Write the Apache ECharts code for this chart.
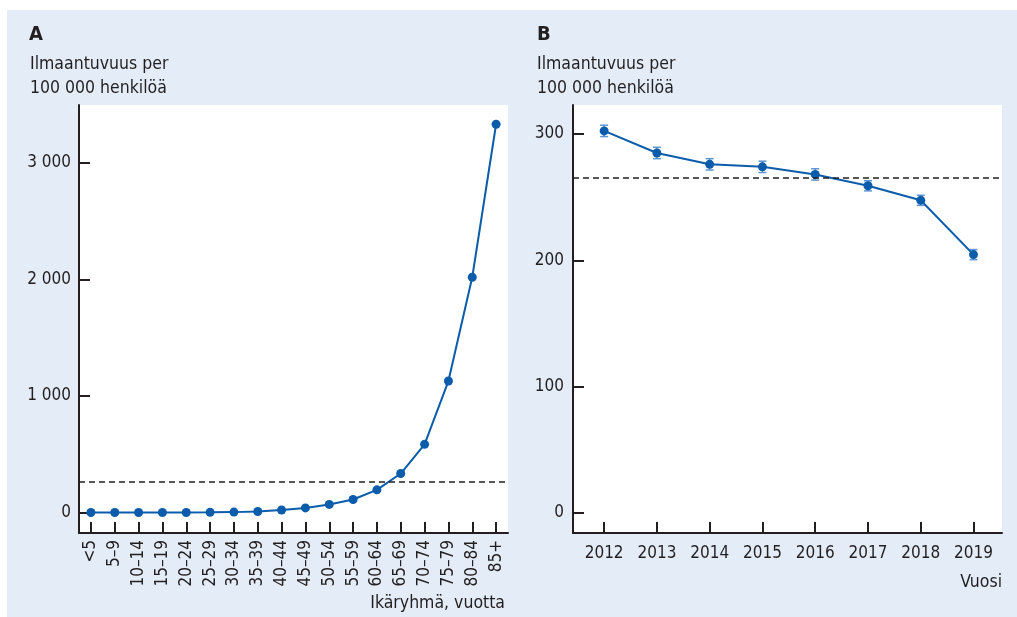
<!DOCTYPE html>
<html>
<head>
<meta charset="utf-8">
<script src="https://cdn.jsdelivr.net/npm/echarts@6/dist/echarts.min.js"></script>
<style>
  html, body { margin: 0; padding: 0; background: #ffffff; }
  #wrap { position: relative; width: 1017px; height: 617px; background: #ffffff; overflow: hidden; }
  #panelBg { position: absolute; left: 7px; top: 10px; right: 0; bottom: 0; background: #e4ecf7; }
  #chart { position: absolute; left: 0; top: 0; width: 1017px; height: 617px; }
</style>
</head>
<body>
<div id="wrap">
  <div id="panelBg"></div>
  <div id="chart"></div>
</div>
<script>
// Panel A: incidence by age group
const ageGroups = ['<5', '5–9', '10–14', '15–19', '20–24', '25–29', '30–34', '35–39', '40–44',
  '45–49', '50–54', '55–59', '60–64', '65–69', '70–74', '75–79', '80–84', '85+'];
const incidenceByAge = [1, 1, 1, 1, 1, 2, 4, 9, 22, 40, 70, 112, 195, 335, 585, 1128, 2018, 3330];

// Panel B: incidence by year with confidence intervals
const years = [2012, 2013, 2014, 2015, 2016, 2017, 2018, 2019];
const incidenceByYear = [302.5, 285, 276, 274, 268, 259, 247.5, 204.5];
const ciLower = [298, 280.5, 271.5, 269.5, 263.5, 255, 243.5, 200.5];
const ciUpper = [307, 289.5, 280.5, 278.5, 272.5, 263, 251.5, 208.5];

// Overall incidence (reference line in both panels)
const overallIncidence = 265;

// Tick values and labels
const yTicksA = [0, 1000, 2000, 3000];
const yTickLabelsA = ['0', '1 000', '2 000', '3 000'];
const yTicksB = [0, 100, 200, 300];

const FONT = "'Liberation Sans Narrow', 'DejaVu Sans Condensed', sans-serif";
const TEXT = '#231f20';
const BLUE = '#0b5cab';
const CI_BLUE = '#5d96d2';

const axisLineStyle = { show: true, onZero: false, lineStyle: { color: TEXT, width: 2 } };
const tickStyle = { show: true, inside: true, length: 11, lineStyle: { color: TEXT, width: 2 } };
const labelStyle = { color: TEXT, fontFamily: FONT, fontSize: 17 };

const refLine = {
  silent: true,
  symbol: 'none',
  label: { show: false },
  lineStyle: { type: [6, 4], color: TEXT, width: 1.6 },
  data: [{ yAxis: overallIncidence }]
};

function textEl(x, y, text, opts) {
  return {
    type: 'text',
    x: x, y: y,
    style: Object.assign({
      text: text,
      fill: TEXT,
      font: '17.5px ' + FONT,
      textAlign: 'left',
      textVerticalAlign: 'middle'
    }, opts || {})
  };
}

const chart = echarts.init(document.getElementById('chart'), null, { renderer: 'canvas' });

chart.setOption({
  animation: false,
  backgroundColor: 'transparent',
  graphic: [
    textEl(29, 35, 'A', { font: 'bold 20px ' + FONT }),
    textEl(30, 64, 'Ilmaantuvuus per'),
    textEl(30, 88, '100 000 henkilöä'),
    textEl(537, 35, 'B', { font: 'bold 20px ' + FONT }),
    textEl(537, 64, 'Ilmaantuvuus per'),
    textEl(537, 88, '100 000 henkilöä'),
    textEl(505, 603, 'Ikäryhmä, vuotta', { textAlign: 'right' }),
    textEl(1002, 582, 'Vuosi', { textAlign: 'right' })
  ],
  grid: [
    { left: 79, top: 105, width: 429, height: 428, show: true, backgroundColor: '#ffffff', borderWidth: 0 },
    { left: 573, top: 105, width: 429, height: 428, show: true, backgroundColor: '#ffffff', borderWidth: 0 }
  ],
  xAxis: [
    {
      gridIndex: 0,
      type: 'category',
      data: ageGroups,
      boundaryGap: true,
      axisLine: axisLineStyle,
      axisTick: Object.assign({ alignWithLabel: true }, tickStyle),
      axisLabel: Object.assign({ rotate: 90, margin: 7, interval: 0 }, labelStyle),
      splitLine: { show: false }
    },
    {
      gridIndex: 1,
      type: 'value',
      min: 2011.41,
      max: 2019.54,
      axisLine: axisLineStyle,
      axisTick: Object.assign({ customValues: years }, tickStyle),
      axisLabel: Object.assign({ customValues: years, margin: 12, formatter: v => String(v) }, labelStyle),
      splitLine: { show: false }
    }
  ],
  yAxis: [
    {
      gridIndex: 0,
      type: 'value',
      min: -175,
      max: 3495,
      axisLine: axisLineStyle,
      axisTick: Object.assign({ customValues: yTicksA }, tickStyle),
      axisLabel: Object.assign({
        customValues: yTicksA,
        margin: 8,
        formatter: v => yTickLabelsA[yTicksA.indexOf(v)]
      }, labelStyle),
      splitLine: { show: false }
    },
    {
      gridIndex: 1,
      type: 'value',
      min: -16,
      max: 323,
      axisLine: axisLineStyle,
      axisTick: Object.assign({ customValues: yTicksB }, tickStyle),
      axisLabel: Object.assign({ customValues: yTicksB, margin: 9 }, labelStyle),
      splitLine: { show: false }
    }
  ],
  series: [
    {
      type: 'line',
      xAxisIndex: 0,
      yAxisIndex: 0,
      data: incidenceByAge,
      symbol: 'circle',
      symbolSize: 9,
      lineStyle: { color: BLUE, width: 2 },
      itemStyle: { color: BLUE },
      markLine: refLine,
      z: 3
    },
    {
      type: 'custom',
      xAxisIndex: 1,
      yAxisIndex: 1,
      data: years.map((y, i) => [y, ciLower[i], ciUpper[i]]),
      encode: { x: 0, y: [1, 2] },
      renderItem: function (params, api) {
        const x = api.value(0);
        const lo = api.coord([x, api.value(1)]);
        const hi = api.coord([x, api.value(2)]);
        const half = 4;
        const style = { stroke: CI_BLUE, lineWidth: 1.5 };
        return {
          type: 'group',
          children: [
            { type: 'line', shape: { x1: lo[0], y1: lo[1], x2: hi[0], y2: hi[1] }, style: style },
            { type: 'line', shape: { x1: lo[0] - half, y1: lo[1], x2: lo[0] + half, y2: lo[1] }, style: style },
            { type: 'line', shape: { x1: hi[0] - half, y1: hi[1], x2: hi[0] + half, y2: hi[1] }, style: style }
          ]
        };
      },
      z: 2
    },
    {
      type: 'line',
      xAxisIndex: 1,
      yAxisIndex: 1,
      data: years.map((y, i) => [y, incidenceByYear[i]]),
      symbol: 'circle',
      symbolSize: 9,
      lineStyle: { color: BLUE, width: 2 },
      itemStyle: { color: BLUE },
      markLine: refLine,
      z: 3
    }
  ]
});
</script>
</body>
</html>
